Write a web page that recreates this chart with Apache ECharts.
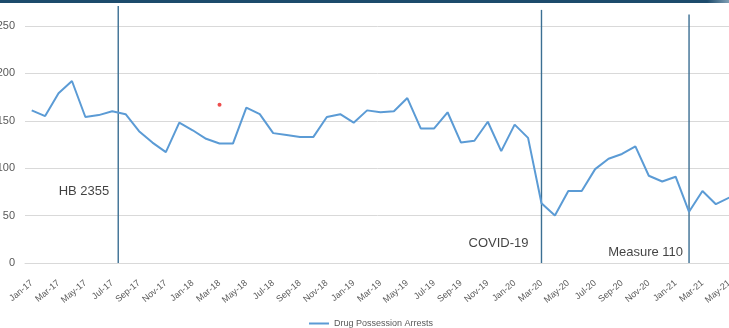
<!DOCTYPE html>
<html>
<head>
<meta charset="utf-8">
<script src="https://cdn.jsdelivr.net/npm/echarts@6/dist/echarts.min.js"></script>
<style>
  html, body { margin: 0; padding: 0; background: #fff; }
  #chart { width: 729px; height: 328px; }
</style>
</head>
<body>
<div id="chart"></div>
<script>
// Monthly drug possession arrests, Jan 2017 – May 2021
const months = [
  'Jan-17','Feb-17','Mar-17','Apr-17','May-17','Jun-17','Jul-17','Aug-17','Sep-17','Oct-17','Nov-17','Dec-17',
  'Jan-18','Feb-18','Mar-18','Apr-18','May-18','Jun-18','Jul-18','Aug-18','Sep-18','Oct-18','Nov-18','Dec-18',
  'Jan-19','Feb-19','Mar-19','Apr-19','May-19','Jun-19','Jul-19','Aug-19','Sep-19','Oct-19','Nov-19','Dec-19',
  'Jan-20','Feb-20','Mar-20','Apr-20','May-20','Jun-20','Jul-20','Aug-20','Sep-20','Oct-20','Nov-20','Dec-20',
  'Jan-21','Feb-21','Mar-21','Apr-21','May-21'
];

const arrests = [
  161, 155, 179, 192, 154, 156, 160, 157, 139, 127, 117, 148,
  140, 131, 126, 126, 164, 157, 137, 135, 133, 133, 154, 157,
  148, 161, 159, 160, 174, 142, 142, 159, 127, 129, 149, 118,
  146, 132, 63, 50, 76, 76, 99, 110, 115, 123, 92, 86,
  91, 54, 76, 62, 69
];

// Isolated highlighted reading (Mar-18)
const highlightMonth = ['Mar-18'];
const highlightValue = [167];

// Policy / event markers: label, month position (category index), label height
const eventNames = ['HB 2355', 'COVID-19', 'Measure 110'];
const eventIndex = [6.45, 38, 49];
const eventLabelY = [75, 21, 11];
const eventLineTop = [271, 267, 262];

const yTicks = { min: 0, max: 250, step: 50 };

const labelDistance = [9, 13, 6];
const eventColor = '#3b6f93';

const chart = echarts.init(document.getElementById('chart'));

const eventLineSeries = eventIndex.map((x, i) => ({
  type: 'line',
  xAxisIndex: 1,
  yAxisIndex: 0,
  data: [[x, 0], [x, eventLineTop[i]]],
  symbol: 'none',
  clip: false,
  silent: true,
  lineStyle: { color: eventColor, width: 1.4 },
  z: 3
}));

const eventLabelSeries = {
  type: 'scatter',
  xAxisIndex: 1,
  yAxisIndex: 0,
  symbolSize: 0,
  silent: true,
  data: eventIndex.map((x, i) => ({
    value: [x, eventLabelY[i]],
    label: {
      show: true,
      position: 'left',
      distance: labelDistance[i],
      formatter: eventNames[i],
      fontFamily: 'Liberation Sans, Arial, sans-serif',
      fontSize: 13,
      color: '#111'
    }
  })),
  z: 5
};

chart.setOption({
  animation: false,
  backgroundColor: '#fff',
  textStyle: { fontFamily: 'Liberation Sans, Arial, sans-serif' },
  graphic: [{
    type: 'rect',
    left: 0, top: 0,
    shape: { width: 729, height: 3 },
    style: {
      fill: new echarts.graphic.LinearGradient(0, 0, 1, 0, [
        { offset: 0, color: '#1d4b6c' },
        { offset: 0.97, color: '#1d4b6c' },
        { offset: 1, color: '#7f9fb5' }
      ])
    },
    silent: true,
    z: 10
  }],
  grid: {
    left: 25, top: 26, width: 711, height: 237,
    containLabel: false,
    outerBoundsMode: 'none'
  },
  legend: {
    data: [{ name: 'Drug Possession Arrests', icon: 'rect' }],
    left: 304,
    top: 314,
    itemWidth: 20,
    itemHeight: 2,
    itemGap: 10,
    textStyle: { fontSize: 9, color: '#595959' }
  },
  xAxis: [{
    type: 'category',
    data: months,
    boundaryGap: true,
    axisLine: { lineStyle: { color: '#d9d9d9' } },
    axisTick: { show: false },
    axisLabel: {
      interval: 1,
      rotate: 40,
      margin: 19,
      fontSize: 9,
      color: '#595959'
    },
    splitLine: { show: false }
  }, {
    type: 'value',
    min: -0.5,
    max: months.length - 0.5,
    show: false
  }],
  yAxis: {
    type: 'value',
    min: yTicks.min,
    max: yTicks.max,
    interval: yTicks.step,
    axisLine: { show: false },
    axisTick: { show: false },
    axisLabel: { fontSize: 11, color: '#595959', margin: 10 },
    splitLine: { lineStyle: { color: '#d9d9d9', width: 1 } }
  },
  series: [
    {
      name: 'Drug Possession Arrests',
      type: 'line',
      data: arrests,
      symbol: 'none',
      lineStyle: { color: '#5b9bd5', width: 2 },
      itemStyle: { color: '#5b9bd5' },
      z: 4
    },
    {
      type: 'scatter',
      data: highlightMonth.map((m, i) => [m, highlightValue[i]]),
      symbol: 'circle',
      symbolSize: 4,
      itemStyle: { color: '#e8201f' },
      silent: true,
      z: 4
    },
    ...eventLineSeries,
    eventLabelSeries
  ]
});
</script>
</body>
</html>
